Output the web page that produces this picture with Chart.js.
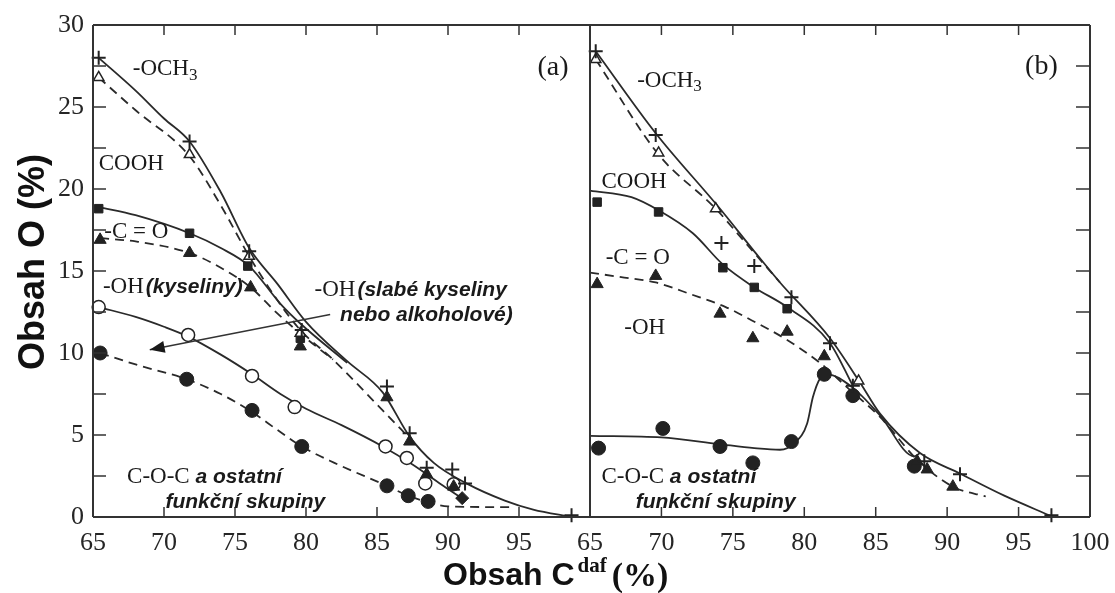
<!DOCTYPE html>
<html>
<head>
<meta charset="utf-8">
<script src="https://cdn.jsdelivr.net/npm/chart.js@4.4.1/dist/chart.umd.min.js"></script>
<style>
  body { margin: 0; background: #fff; width: 1115px; height: 593px; overflow: hidden; position: relative; }
  canvas { position: absolute; top: 0; }
</style>
</head>
<body>
<canvas id="chartA" width="1115" height="593" style="left:0"></canvas>
<canvas id="chartB" width="570" height="593" style="left:560px"></canvas>
<script>
// axis ticks (inward tick marks) and ranges
const xTickMarks = [70, 75, 80, 85, 90, 95];
const yTickMarks = [2.5, 5, 7.5, 10, 12.5, 15, 17.5, 20, 22.5, 25, 27.5];

// ---- panel (a): measured points [C %, O %]
const aPlus     = [[65.4,28.0],[71.8,22.9],[76.0,16.2],[79.7,11.4],[85.7,7.95],[87.3,5.1],[88.5,3.0],[90.3,2.9],[91.2,2.05],[98.7,0.1]];
const aOpenTri  = [[65.4,26.8],[71.8,22.1],[76.0,15.9],[79.6,11.2]];
const aSquare   = [[65.4,18.8],[71.8,17.3],[75.9,15.3],[79.6,10.9]];
const aTri      = [[65.5,16.9],[71.8,16.1],[76.1,14.0],[79.6,10.4],[85.7,7.3],[87.3,4.6],[88.5,2.6],[90.4,1.85]];
const aOpenDot  = [[65.4,12.8],[71.7,11.1],[76.2,8.6],[79.2,6.7],[85.6,4.3],[87.1,3.6],[88.4,2.05],[90.4,2.0]];
const aDot      = [[65.5,10.0],[71.6,8.4],[76.2,6.5],[79.7,4.3],[85.7,1.9],[87.2,1.3],[88.6,0.95]];
const aDiamond  = [[91.0,1.15]];

// panel (a): fitted curves
const aLineOCH3 = [[65.4,28.0],[68,26.0],[70,24.3],[71.8,22.9],[74,19.8],[76,16.4],[78,14.2],[80,11.9],[82.9,9.5],[85.4,7.6],[87.3,4.9],[89,3.3],[91.3,2.05],[94,1.0],[96,0.45],[98.7,0]];
const aLineCOOH = [[65.4,26.8],[68,24.8],[71.8,22.0],[74,19.0],[76,15.9],[78,13.2],[79.6,11.4],[81.9,9.6],[85.4,6.5],[87.3,4.8]];
const aLineCO   = [[65.4,18.9],[68,18.4],[71.8,17.3],[74,16.4],[76,15.3],[78.2,13.0],[79.6,11.8],[82.9,9.4]];
const aLineOHa  = [[65.5,17.0],[68,16.8],[71.8,16.1],[74,15.2],[76.1,14.0],[78,12.4],[80,10.9],[81.9,9.6]];
const aLineOHw  = [[65.4,12.8],[68,12.2],[70,11.6],[71.7,11.0],[74,9.9],[76.2,8.7],[78.2,7.5],[80,6.6],[82.5,5.6],[85.4,4.3],[87.5,3.2],[89.5,2.0],[90.8,1.25]];
const aLineCOC  = [[65.5,10.0],[68,9.3],[71.6,8.4],[74,7.5],[76.2,6.4],[78,5.3],[79.7,4.3],[82,3.3],[85.7,1.9],[87.2,1.3],[88.6,0.9],[90,0.65],[94.6,0.6]];

// ---- panel (b): measured points
const bPlus     = [[65.4,28.4],[69.6,23.3],[74.2,16.7],[76.5,15.3],[79.1,13.4],[81.8,10.6],[83.4,8.0],[88.4,3.4],[90.9,2.6],[97.3,0.1]];
const bOpenTri  = [[65.4,27.9],[69.8,22.2],[73.8,18.8],[83.8,8.3]];
const bSquare   = [[65.5,19.2],[69.8,18.6],[74.3,15.2],[76.5,14.0],[78.8,12.7]];
const bTri      = [[65.5,14.2],[69.6,14.7],[74.1,12.4],[76.4,10.9],[78.8,11.3],[81.4,9.8],[87.9,3.4],[88.6,2.9],[90.4,1.85]];
const bDot      = [[65.6,4.2],[70.1,5.4],[74.1,4.3],[76.4,3.3],[79.1,4.6],[81.4,8.7],[83.4,7.4],[87.7,3.1]];

// panel (b): fitted curves
const bLineOCH3 = [[65.4,28.4],[69.6,23.4],[74,18.9],[76.5,16.2],[78.3,14.3],[81.8,10.9],[83.9,8.2],[85.3,6.3],[88.1,3.9],[90.9,2.65],[94,1.3],[97.3,0.05]];
const bLineCOOH = [[65.4,27.9],[69.8,22.1],[73.8,18.8],[76,16.6],[78.3,14.3]];
const bLineCO   = [[65,19.9],[67.9,19.5],[69.8,18.7],[72.2,17.3],[74.3,15.4],[76.5,14.0],[78.8,12.8],[81.8,10.6],[83.4,8.0]];
const bLineOH   = [[65,14.9],[67.4,14.6],[69.6,14.3],[72,13.6],[74.5,12.8],[76.3,12.0],[78.6,10.9],[81.1,9.4],[83,7.9],[85.3,6.1],[87.9,3.5],[90.4,1.85],[92.7,1.25]];
const bLineCOC  = [[65,4.95],[70,4.85],[74,4.45],[76.5,4.2],[78.3,4.1],[79.3,4.5],[80.2,5.7],[80.6,7.3],[81.1,8.45],[81.6,8.7],[83.3,7.95],[85.3,6.2],[87.7,3.7],[88.1,3.9]];

const ink = '#222';
const SERIF = '"Liberation Serif", "DejaVu Serif", serif';
const SANS = '"Liberation Sans", Arial, sans-serif';
const S = '23px ' + SERIF;
const SUB = '17px ' + SERIF;
const I = 'italic bold 21px ' + SANS;

const pts = arr => arr.map(([x, y]) => ({ x, y }));

const styles = {
  plus:     { pointStyle: 'cross', pointRadius: 7, pointBorderWidth: 2, pointBackgroundColor: ink },
  openTri:  { pointStyle: 'triangle', pointRadius: 6, pointBorderWidth: 1.5, pointBackgroundColor: '#fff' },
  square:   { pointStyle: 'rect', pointRadius: 6, pointBorderWidth: 1, pointBackgroundColor: ink },
  tri:      { pointStyle: 'triangle', pointRadius: 7, pointBorderWidth: 1, pointBackgroundColor: ink },
  openDot:  { pointStyle: 'circle', pointRadius: 6.5, pointBorderWidth: 1.5, pointBackgroundColor: '#fff' },
  dot:      { pointStyle: 'circle', pointRadius: 7, pointBorderWidth: 1, pointBackgroundColor: ink },
  diamond:  { pointStyle: 'rectRot', pointRadius: 6.5, pointBorderWidth: 1, pointBackgroundColor: ink }
};

function markers(data, style) {
  return Object.assign({ data: pts(data), showLine: false, pointBorderColor: ink, borderColor: ink, order: 0, clip: 10 }, styles[style]);
}
function curve(data, dashed) {
  return {
    data: pts(data), showLine: true, pointRadius: 0, borderColor: '#2a2a2a', borderWidth: 1.8,
    borderDash: dashed ? [9, 6] : [], cubicInterpolationMode: 'monotone', fill: false, order: 1, clip: 4
  };
}

// text drawn left-aligned at a data point, vertically centred
function drawText(chart, notes) {
  const { ctx, scales: { x, y } } = chart;
  ctx.save();
  ctx.fillStyle = '#1a1a1a';
  ctx.textBaseline = 'middle';
  ctx.textAlign = 'left';
  for (const n of notes) {
    let cx = x.getPixelForValue(n.x);
    const cy = y.getPixelForValue(n.y);
    for (const [t, f, dy, gap] of n.parts) {
      ctx.font = f;
      cx += gap || 0;
      ctx.fillText(t, cx, cy + (dy || 0));
      cx += ctx.measureText(t).width;
    }
  }
  ctx.restore();
}

function drawFrame(chart, sides) {
  const { ctx, chartArea: a, scales: { x, y } } = chart;
  ctx.save();
  ctx.strokeStyle = '#333';
  ctx.lineWidth = 2;
  ctx.beginPath();
  ctx.moveTo(a.left, a.top); ctx.lineTo(a.right, a.top);
  ctx.moveTo(a.left, a.bottom); ctx.lineTo(a.right, a.bottom);
  ctx.moveTo(a.left, a.top); ctx.lineTo(a.left, a.bottom);
  ctx.moveTo(a.right, a.top); ctx.lineTo(a.right, a.bottom);
  ctx.stroke();
  ctx.lineWidth = 1.5;
  ctx.beginPath();
  for (const v of xTickMarks) {
    const px = x.getPixelForValue(v);
    ctx.moveTo(px, a.bottom); ctx.lineTo(px, a.bottom - 10);
    ctx.moveTo(px, a.top); ctx.lineTo(px, a.top + 10);
  }
  for (const v of yTickMarks) {
    const py = y.getPixelForValue(v);
    if (sides.left) { ctx.moveTo(a.left, py); ctx.lineTo(a.left + 13, py); }
    if (sides.right) { ctx.moveTo(a.right, py); ctx.lineTo(a.right - 14, py); }
  }
  ctx.stroke();
  ctx.restore();
}

function scalesFor(showY, hideLast) {
  return {
    x: {
      type: 'linear', min: 65, max: 100,
      grid: { display: false, drawTicks: false }, border: { display: false },
      ticks: {
        stepSize: 5, padding: 11, color: '#262626', maxRotation: 0, autoSkip: false,
        font: { family: SERIF, size: 26 },
        callback: v => (hideLast && v === 100) ? '' : v
      },
      afterFit: s => { s.height = 76; }
    },
    y: {
      type: 'linear', min: 0, max: 30, display: showY,
      grid: { display: false, drawTicks: false }, border: { display: false },
      ticks: {
        stepSize: 2.5, padding: 9, color: '#262626',
        font: { family: SERIF, size: 26 },
        callback: v => (v % 5 === 0) ? v : ''
      },
      afterFit: s => { s.width = showY ? 93 : 0; }
    }
  };
}

const baseOpts = {
  responsive: false, animation: false, events: [],
  plugins: { legend: { display: false }, tooltip: { enabled: false } }
};

// panel (a)
new Chart(document.getElementById('chartA'), {
  type: 'scatter',
  data: {
    datasets: [
      markers(aPlus, 'plus'), markers(aOpenTri, 'openTri'), markers(aSquare, 'square'),
      markers(aTri, 'tri'), markers(aOpenDot, 'openDot'), markers(aDot, 'dot'), markers(aDiamond, 'diamond'),
      curve(aLineOCH3, false), curve(aLineCOOH, true), curve(aLineCO, false),
      curve(aLineOHa, true), curve(aLineOHw, false), curve(aLineCOC, true)
    ]
  },
  options: Object.assign({}, baseOpts, {
    layout: { padding: { top: 25, right: 525, bottom: 0, left: 0 } },
    scales: scalesFor(true, true)
  }),
  plugins: [{
    id: 'decorA',
    afterDraw(chart) {
      drawFrame(chart, { left: true, right: false });
      drawText(chart, [
        { x: 67.8, y: 27.3, parts: [['-OCH', S], ['3', SUB, 6]] },
        { x: 65.4, y: 21.5, parts: [['COOH', S]] },
        { x: 65.8, y: 17.4, parts: [['-C = O', S]] },
        { x: 65.7, y: 14.0, parts: [['-OH', S], ['(kyseliny)', I, 0, 2]] },
        { x: 80.6, y: 13.85, parts: [['-OH', S], ['(slabé kyseliny', I, 0, 2]] },
        { x: 82.4, y: 12.3, parts: [['nebo alkoholové)', I]] },
        { x: 67.4, y: 2.42, parts: [['C-O-C', S], [' a ostatní', I]] },
        { x: 70.1, y: 0.92, parts: [['funkční skupiny', I]] }
      ]);
      const { ctx, scales: { x, y } } = chart;
      ctx.save();
      ctx.fillStyle = '#1a1a1a';
      ctx.font = '28px ' + SERIF;
      ctx.textAlign = 'center'; ctx.textBaseline = 'middle';
      ctx.fillText('(a)', x.getPixelForValue(97.4), y.getPixelForValue(27.4));
      // arrow from the label to its curve
      const x0 = x.getPixelForValue(81.7), y0 = y.getPixelForValue(12.35);
      const x1 = x.getPixelForValue(69.0), y1 = y.getPixelForValue(10.2);
      const ang = Math.atan2(y1 - y0, x1 - x0);
      ctx.strokeStyle = '#333'; ctx.lineWidth = 1.5;
      ctx.beginPath(); ctx.moveTo(x0, y0); ctx.lineTo(x1, y1); ctx.stroke();
      ctx.beginPath();
      ctx.moveTo(x1, y1);
      ctx.lineTo(x1 - 16 * Math.cos(ang - 0.38), y1 - 16 * Math.sin(ang - 0.38));
      ctx.lineTo(x1 - 16 * Math.cos(ang + 0.38), y1 - 16 * Math.sin(ang + 0.38));
      ctx.closePath(); ctx.fill();
      // axis titles
      ctx.fillStyle = '#111';
      ctx.textAlign = 'left'; ctx.textBaseline = 'alphabetic';
      let cx = 443;
      ctx.font = 'bold 32px ' + SANS; ctx.fillText('Obsah C', cx, 585); cx += ctx.measureText('Obsah C').width + 3;
      ctx.font = 'bold 21px ' + SERIF; ctx.fillText('daf', cx, 572); cx += ctx.measureText('daf').width + 5;
      ctx.font = 'bold 34px ' + SERIF; ctx.fillText('(%)', cx, 586);
      ctx.translate(44, 262); ctx.rotate(-Math.PI / 2);
      ctx.textAlign = 'center';
      ctx.font = 'bold 36px ' + SANS; ctx.fillText('Obsah O (%)', 0, 0);
      ctx.restore();
    }
  }]
});

// panel (b)
new Chart(document.getElementById('chartB'), {
  type: 'scatter',
  data: {
    datasets: [
      markers(bPlus, 'plus'), markers(bOpenTri, 'openTri'), markers(bSquare, 'square'),
      markers(bTri, 'tri'), markers(bDot, 'dot'),
      curve(bLineOCH3, false), curve(bLineCOOH, true), curve(bLineCO, false),
      curve(bLineOH, true), curve(bLineCOC, false)
    ]
  },
  options: Object.assign({}, baseOpts, {
    layout: { padding: { top: 25, right: 40, bottom: 0, left: 30 } },
    scales: scalesFor(false, false)
  }),
  plugins: [{
    id: 'decorB',
    afterDraw(chart) {
      drawFrame(chart, { left: false, right: true });
      drawText(chart, [
        { x: 68.3, y: 26.6, parts: [['-OCH', S], ['3', SUB, 6]] },
        { x: 65.8, y: 20.4, parts: [['COOH', S]] },
        { x: 66.1, y: 15.8, parts: [['-C = O', S]] },
        { x: 67.4, y: 11.5, parts: [['-OH', S]] },
        { x: 65.8, y: 2.45, parts: [['C-O-C', S], [' a ostatní', I]] },
        { x: 68.2, y: 0.92, parts: [['funkční skupiny', I]] }
      ]);
      const { ctx, scales: { x, y } } = chart;
      ctx.save();
      ctx.fillStyle = '#1a1a1a';
      ctx.font = '28px ' + SERIF;
      ctx.textAlign = 'center'; ctx.textBaseline = 'middle';
      ctx.fillText('(b)', x.getPixelForValue(96.6), y.getPixelForValue(27.45));
      ctx.restore();
    }
  }]
});
</script>
</body>
</html>
